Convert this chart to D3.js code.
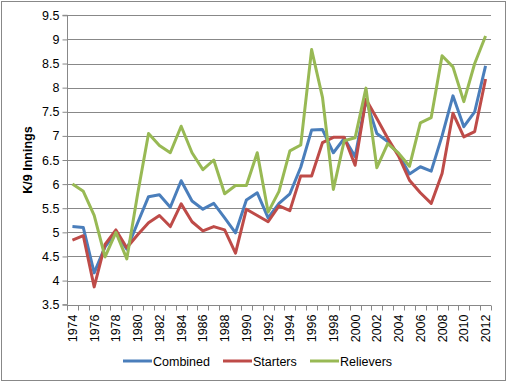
<!DOCTYPE html>
<html><head><meta charset="utf-8">
<script src="https://cdn.jsdelivr.net/npm/d3@7"></script>
<style>body{margin:0;background:#fff}svg{display:block}</style>
</head><body><svg id="c" width="508" height="383"></svg>
<script>
const years = d3.range(1974, 2013).map(String);
const combined = [5.12,5.1,4.16,4.7,5.0,4.65,5.2,5.74,5.78,5.52,6.07,5.65,5.48,5.6,5.3,4.99,5.67,5.82,5.3,5.6,5.8,6.35,7.12,7.13,6.65,6.95,6.57,7.75,7.05,6.88,6.62,6.21,6.36,6.27,7.0,7.83,7.19,7.5,8.45];
const starters = [4.84,4.93,3.87,4.75,5.05,4.68,4.95,5.2,5.35,5.12,5.59,5.22,5.03,5.12,5.05,4.57,5.48,5.35,5.22,5.55,5.45,6.17,6.17,6.86,6.97,6.97,6.39,7.76,7.36,6.95,6.58,6.08,5.82,5.6,6.22,7.47,6.98,7.09,8.18];
const relievers = [6.0,5.85,5.35,4.49,5.0,4.45,5.8,7.05,6.8,6.65,7.2,6.65,6.3,6.5,5.8,5.97,5.97,6.65,5.42,5.85,6.69,6.81,8.79,7.8,5.89,6.9,6.96,7.99,6.34,6.84,6.64,6.37,7.27,7.38,8.66,8.43,7.71,8.5,9.07];
const yTicks = [3.5,4,4.5,5,5.5,6,6.5,7,7.5,8,8.5,9,9.5];
const seriesNames = ["Combined","Starters","Relievers"];
const colors = ["#4a7ebb","#be4b48","#98b954"];
const series = [combined, starters, relievers];

const svg = d3.select("#c");
const font = "Liberation Sans, Arial, sans-serif";
svg.append("rect").attr("x",1.5).attr("y",1.5).attr("width",504).attr("height",379)
  .attr("fill","#fff").attr("stroke","#888").attr("stroke-width",1);

const L=67, R=491, T=15.3, B=304.7;
const x = d3.scaleBand().domain(years).range([L,R]).padding(0);
const y = d3.scaleLinear().domain([3.5,9.5]).range([B,T]);

// gridlines
svg.append("g").selectAll("line").data(yTicks.slice(1)).join("line")
  .attr("x1",L).attr("x2",R).attr("y1",d=>Math.round(y(d))+0.5).attr("y2",d=>Math.round(y(d))+0.5)
  .attr("stroke","#888").attr("stroke-width",1);

// y axis
const ya = svg.append("g").attr("transform",`translate(${L+0.5},0)`)
  .call(d3.axisLeft(y).tickValues(yTicks).tickSize(5).tickFormat(d=>String(d)));
ya.select(".domain").attr("stroke","#888").attr("d",`M-5,${B}H0V${T}H-5`);
ya.selectAll(".tick line").attr("stroke","#888");
ya.selectAll(".tick text").attr("font-family",font).attr("font-size",12.5).attr("fill","#000").attr("x",-8);

// x axis
const xa = svg.append("g").attr("transform",`translate(0,${Math.round(B)+0.5})`);
xa.append("line").attr("x1",L).attr("x2",R).attr("stroke","#888");
const bounds = years.map(d=>x(d)).concat([R]);
xa.selectAll("line.t").data(bounds).join("line").attr("class","t")
  .attr("x1",d=>Math.round(d)+0.5).attr("x2",d=>Math.round(d)+0.5).attr("y1",0).attr("y2",5).attr("stroke","#888");
xa.selectAll("text").data(years.filter((d,i)=>i%2===0)).join("text")
  .attr("transform",d=>`translate(${x(d)+x.bandwidth()/2+4.5},9) rotate(-90)`)
  .attr("text-anchor","end").attr("font-family",font).attr("font-size",12.5).text(d=>d);

// y title
svg.append("text").attr("transform",`translate(32,${(T+B)/2}) rotate(-90)`)
  .attr("text-anchor","middle").attr("font-family",font).attr("font-size",12.5).attr("font-weight","bold").text("K/9 Innings");

// lines
const line = d3.line().x((d,i)=>x(years[i])+x.bandwidth()/2).y(d=>y(d));
series.forEach((s,k)=>{
  svg.append("path").datum(s).attr("d",line).attr("fill","none")
    .attr("stroke",colors[k]).attr("stroke-width",3).attr("stroke-linejoin","round");
});

// legend
const legX = [123,223,310];
const lg = svg.append("g");
seriesNames.forEach((n,k)=>{
  lg.append("line").attr("x1",legX[k]).attr("x2",legX[k]+29).attr("y1",361).attr("y2",361)
    .attr("stroke",colors[k]).attr("stroke-width",3);
  lg.append("text").attr("x",legX[k]+30).attr("y",365.5).attr("font-family",font).attr("font-size",12.5).text(n);
});
</script></body></html>
